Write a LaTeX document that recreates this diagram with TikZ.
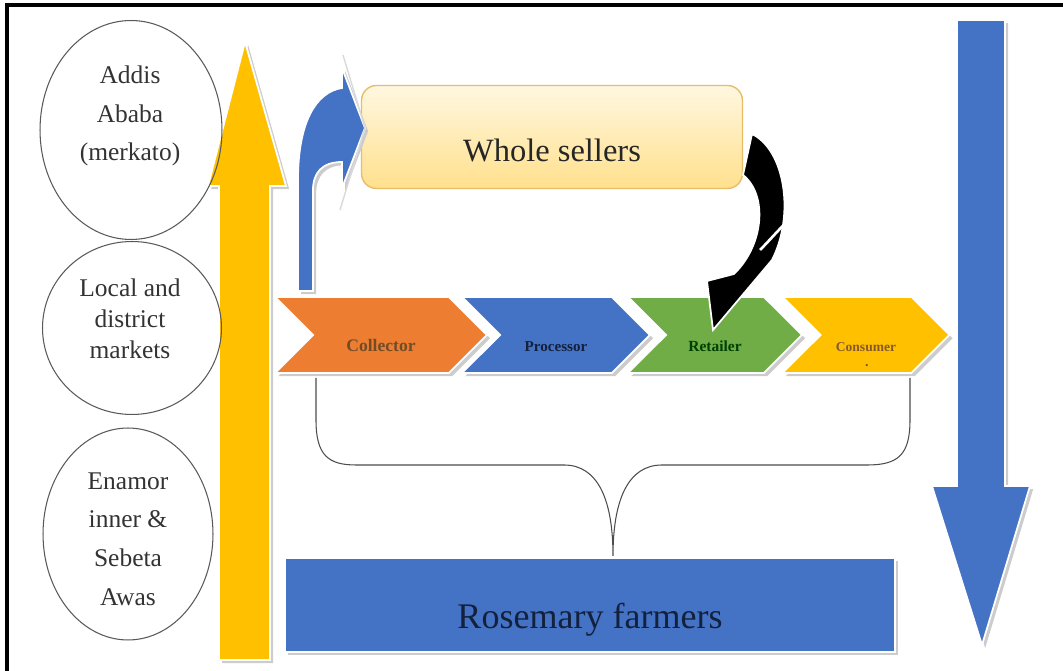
\documentclass[tikz,border=0pt]{standalone}
\usepackage{fontspec}
\setmainfont{Liberation Serif}
\usetikzlibrary{shapes.geometric,shapes.symbols,shadows}

\definecolor{amber}{HTML}{FFC000}
\definecolor{steel}{HTML}{4472C4}
\definecolor{tangerine}{HTML}{ED7D31}
\definecolor{leaf}{HTML}{70AD47}
\definecolor{cream}{HTML}{FFF7E0}
\definecolor{butter}{HTML}{FFE08C}
\definecolor{tanline}{HTML}{E9BC6A}
\definecolor{navy}{HTML}{14213D}

\tikzset{
  market/.style={ellipse, draw=gray!70!black, line width=0.6pt},
  markettext/.style={align=center, text=black!80},
  soft/.style={draw=white, line width=1pt, drop shadow={shadow xshift=1.8pt, shadow yshift=-1.8pt, fill=black!20, opacity=1}},
  chain/.style={signal, signal from=west, signal to=east, signal pointer angle=90, minimum height=1.52cm, inner sep=0pt, soft, text height=0.8cm, text depth=0.12cm},
  brace/.style={draw=gray!60!black, line width=0.6pt},
}

\begin{document}
\begin{tikzpicture}[x=0.02cm, y=-0.02cm]
\useasboundingbox (0,0) rectangle (1063,671);
\draw[line width=1.8pt] (7,671) -- (7,5) -- (1063,5);

\fill[amber, soft] (219,660) -- (219,186) -- (208,186) -- (245,42) -- (286,186) -- (270,186) -- (270,660) -- cycle;
\fill[steel, soft] (957,20) -- (1005,20) -- (1005,486) -- (1030,486) -- (982,645) -- (932,486) -- (957,486) -- cycle;

\node[market, minimum width=3.64cm, minimum height=4.38cm] (addis) at (131,130) {};
\node[market, minimum width=3.58cm, minimum height=3.46cm] (local) at (132,328) {};
\node[market, minimum width=3.40cm, minimum height=4.24cm] (enamor) at (128,534) {};
\node[markettext, font=\fontsize{14.5}{22}\selectfont] (addist) at (130,116) {Addis\\Ababa\\(merkato)};
\node[markettext, font=\fontsize{14.5}{17.5}\selectfont] (localt) at (130,319) {Local and\\district\\markets};
\node[markettext, font=\fontsize{14.5}{22}\selectfont] (enamort) at (128,539) {Enamor\\inner \&\\Sebeta\\Awas};

\node[draw=tanline, line width=0.8pt, rounded corners=0.3cm, top color=cream, bottom color=butter, minimum width=7.62cm, minimum height=2.06cm, text height=1.2cm, text depth=0.22cm, text=black!85, font=\fontsize{18.5}{22}\selectfont] (whole) at (552,137) {Whole sellers};

\fill[steel, soft] (298,291) -- (298,180) .. controls (298,122) and (316,92) .. (342,88) -- (342,68) -- (365,128) -- (342,188) -- (342,162) .. controls (322,162) and (313,173) .. (313,190) -- (313,291) -- cycle;
\draw[gray!30, line width=0.8pt] (343,55) -- (365,128) -- (340,210);

\node[chain, fill=tangerine, minimum width=4.24cm, text=brown!60!black, font=\bfseries\fontsize{10}{12}\selectfont] (col) at (381,335) {Collector};
\node[chain, fill=steel, minimum width=3.76cm, text=navy, font=\bfseries\fontsize{8.6}{10}\selectfont] (pro) at (556,335) {Processor};
\node[chain, fill=leaf, minimum width=3.48cm, text=green!25!black, font=\bfseries\fontsize{8.8}{10}\selectfont] (ret) at (715,335) {Retailer};
\node[chain, fill=amber, minimum width=3.34cm, text=brown!70!black, font=\bfseries\fontsize{7.7}{9}\selectfont] (con) at (866,335) {Consumer};
\node[text=brown!70!black, font=\bfseries\fontsize{8}{8}\selectfont, inner sep=0pt] (condot) at (867,366) {.};

\fill[black, draw=white, line width=1pt] (752,134) .. controls (785,150) and (795,215) .. (772,260) -- (713,330) -- (707,281) -- (734,274) .. controls (764,245) and (768,195) .. (743,175) -- cycle;
\draw[white, line width=1.5pt] (760,250) .. controls (770,240) and (780,228) .. (789,220);

\draw[brace] (316,378) -- (316,420) .. controls (316,455) and (328,465) .. (356,465) -- (564,465) .. controls (598,465) and (613,500) .. (613,556) .. controls (613,500) and (628,465) .. (662,465) -- (867,465) .. controls (898,465) and (910,455) .. (910,420) -- (910,378);

\node[soft, fill=steel, minimum width=12.2cm, minimum height=1.88cm, text height=1.2cm, text depth=0.24cm, text=navy, font=\fontsize{20.5}{24}\selectfont] (farm) at (590,605) {Rosemary farmers};
\end{tikzpicture}
\end{document}
